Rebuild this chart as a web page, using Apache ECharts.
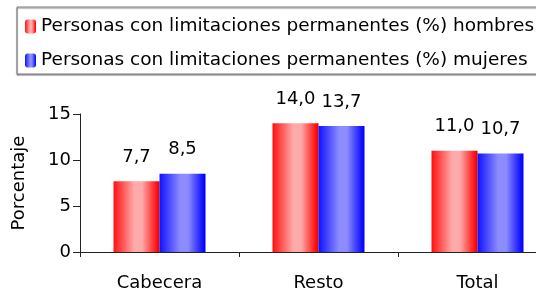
<!DOCTYPE html>
<html>
<head>
<meta charset="utf-8">
<script src="https://cdn.jsdelivr.net/npm/echarts@6/dist/echarts.min.js"></script>
<style>
  html, body { margin: 0; padding: 0; background: #fff; }
  #main { width: 536px; height: 292px; }
</style>
</head>
<body>
<div id="main"></div>
<script>
var categories = ['Cabecera', 'Resto', 'Total'];
var hombres = [7.7, 14.0, 11.0];
var mujeres = [8.5, 13.7, 10.7];
var seriesNames = [
  'Personas con limitaciones permanentes (%) hombres',
  'Personas con limitaciones permanentes (%) mujeres'
];
var yTicks = [0, 5, 10, 15];

var font = 'DejaVu Sans';

// degradado horizontal de las barras
function grad(edge, mid, dark) {
  return new echarts.graphic.LinearGradient(0, 0, 1, 0, [
    { offset: 0, color: edge },
    { offset: 0.45, color: mid },
    { offset: 0.62, color: mid },
    { offset: 0.94, color: edge },
    { offset: 1, color: dark }
  ]);
}
var rojo = grad('#ff1010', '#ffaaaa', '#e00000');
var azul = grad('#1010ff', '#8c8cff', '#0000ee');

function fmt(v) {
  return v.toFixed(1).replace('.', ',');
}

var chart = echarts.init(document.getElementById('main'), null, { renderer: 'canvas' });

var labelCfg = {
  show: true,
  position: 'top',
  distance: 15,
  color: '#000',
  fontFamily: font,
  fontSize: 18,
  formatter: function (p) { return fmt(p.value); }
};

var option = {
  animation: false,
  legend: {
    orient: 'vertical',
    left: 17,
    top: 7,
    padding: [10, 30, 4, 8],
    itemGap: 15,
    itemWidth: 11,
    itemHeight: 14,
    borderColor: '#808080',
    borderWidth: 1,
    shadowColor: 'rgba(0,0,0,0.5)',
    shadowOffsetX: 0,
    shadowOffsetY: 1,
    shadowBlur: 1,
    backgroundColor: '#fff',
    textStyle: { fontFamily: font, fontSize: 18.5, color: '#000' },
    data: seriesNames
  },
  grid: {
    left: 80,
    width: 477,
    top: 114,
    bottom: 40,
    outerBoundsMode: 'none'
  },
  xAxis: {
    type: 'category',
    data: categories,
    axisLine: { lineStyle: { color: '#222', width: 1 } },
    axisTick: { show: true, alignWithLabel: false, interval: 0, length: 5, lineStyle: { color: '#222' } },
    axisLabel: { color: '#000', fontFamily: font, fontSize: 18, margin: 22 }
  },
  yAxis: {
    type: 'value',
    min: yTicks[0],
    max: yTicks[yTicks.length - 1],
    interval: 5,
    name: 'Porcentaje',
    nameLocation: 'middle',
    nameRotate: 90,
    nameGap: 52,
    nameTextStyle: { fontFamily: font, fontSize: 18, color: '#000' },
    axisLine: { show: true, lineStyle: { color: '#222', width: 1 } },
    axisTick: { show: true, length: 7, lineStyle: { color: '#222' } },
    axisLabel: { color: '#000', fontFamily: font, fontSize: 18, margin: 9 },
    splitLine: { show: false }
  },
  series: [
    {
      name: seriesNames[0],
      type: 'bar',
      data: hombres,
      barWidth: 46,
      barGap: '0%',
      itemStyle: { color: rojo },
      label: labelCfg
    },
    {
      name: seriesNames[1],
      type: 'bar',
      data: mujeres,
      barWidth: 46,
      barGap: '0%',
      itemStyle: { color: azul },
      label: labelCfg
    }
  ]
};

chart.setOption(option);
</script>
</body>
</html>
